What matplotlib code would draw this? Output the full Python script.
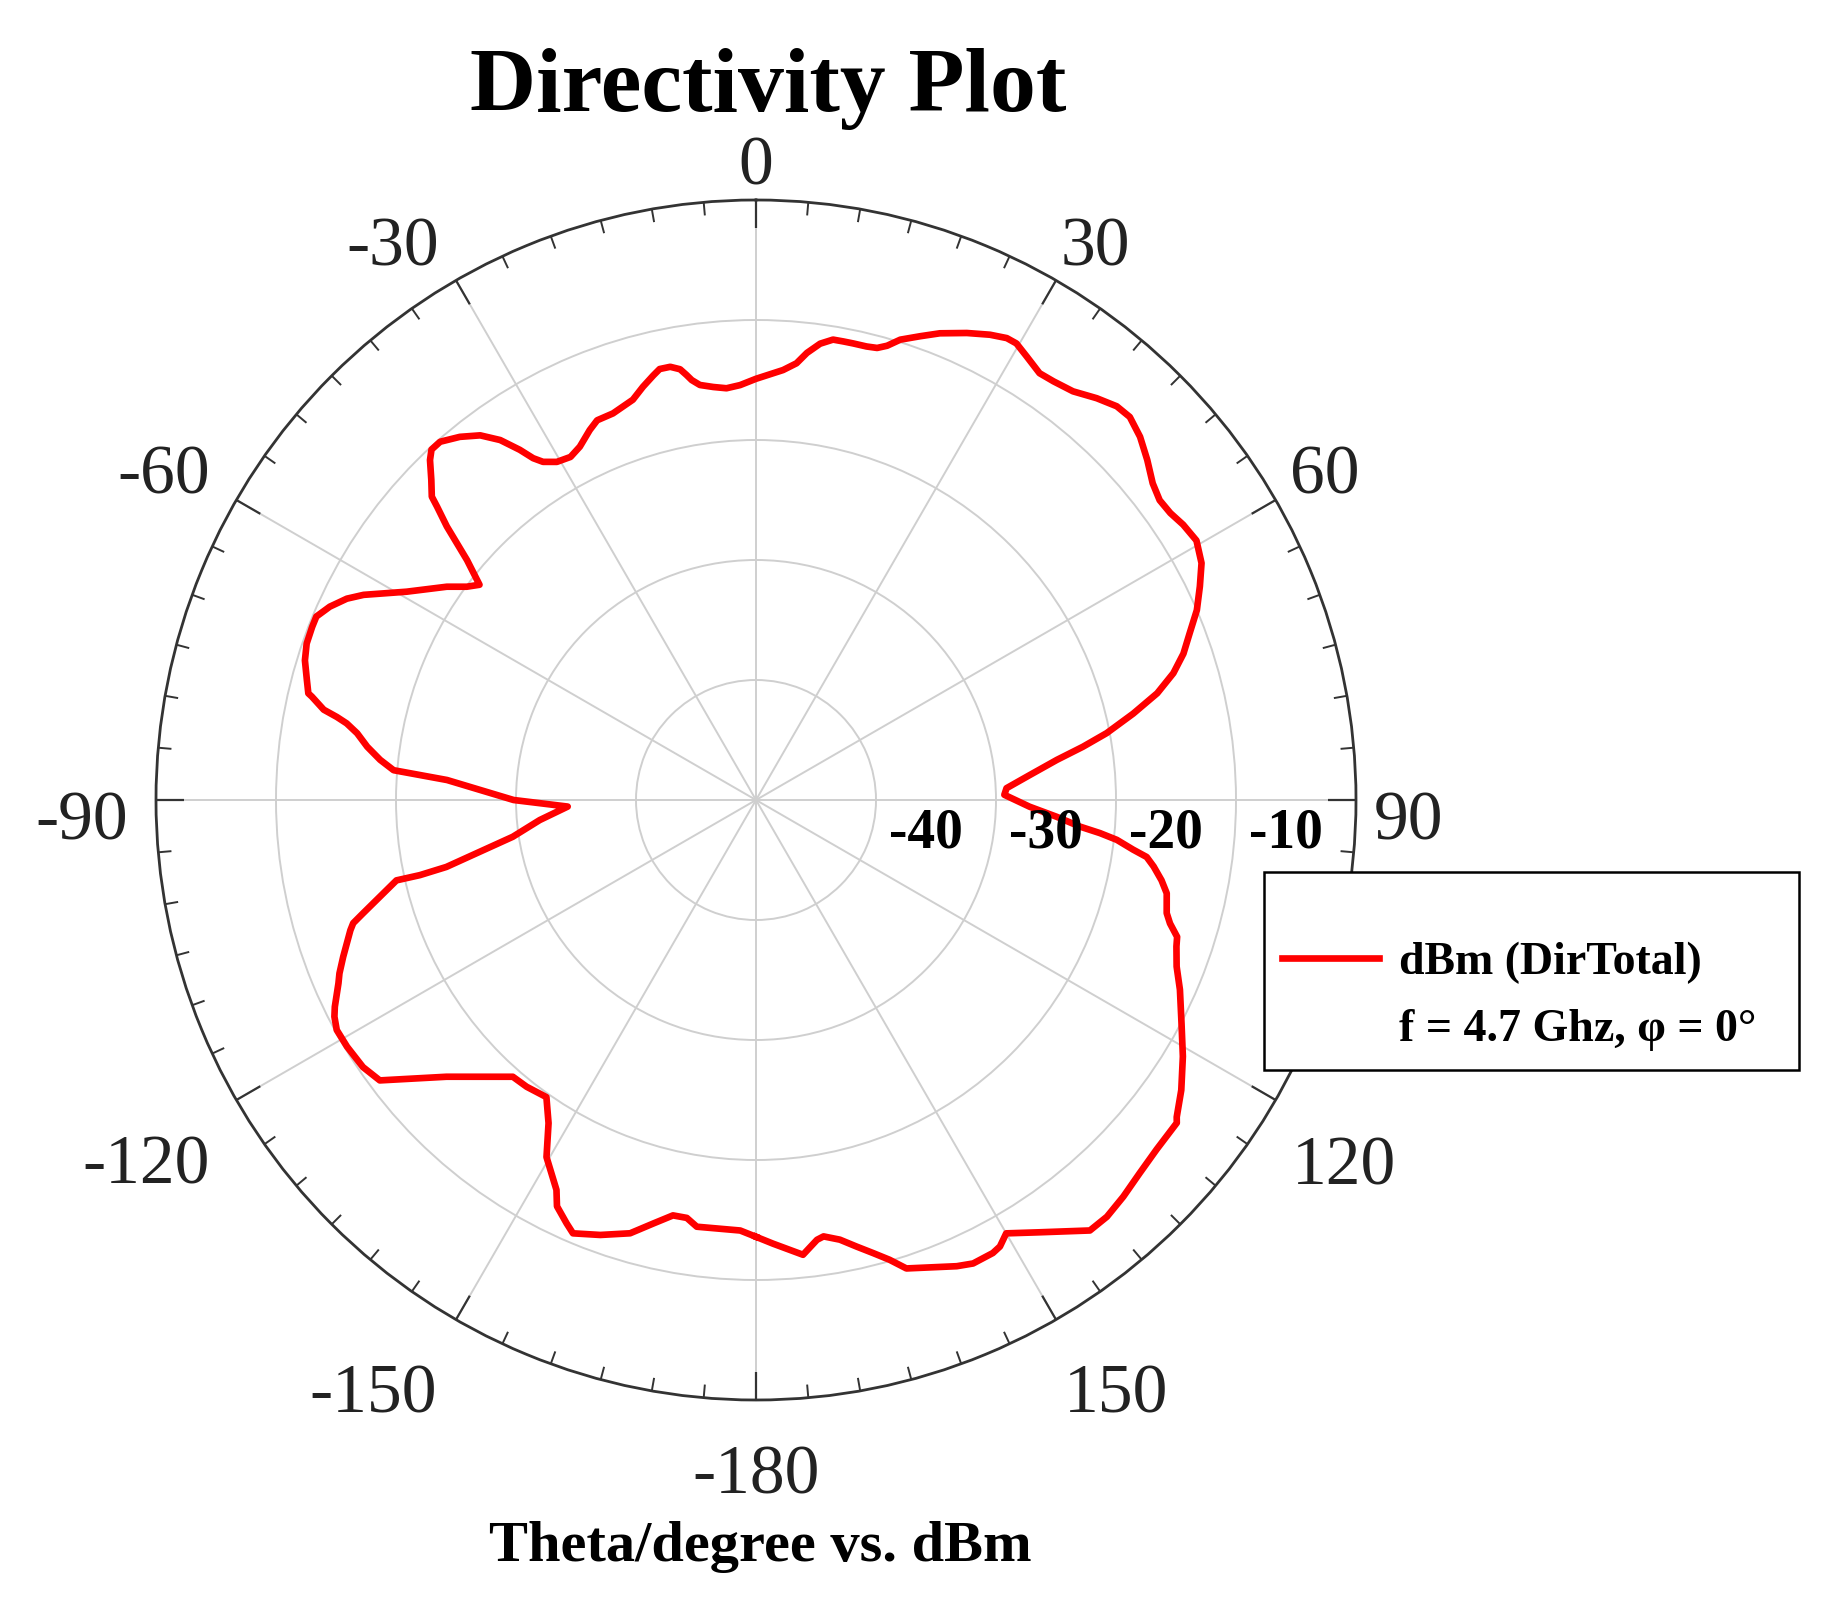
import numpy as np
import matplotlib
matplotlib.use('Agg')
import matplotlib.pyplot as plt
from matplotlib.lines import Line2D

# traced directivity pattern, theta in degrees, value in dBm (trace order)
theta_deg = [-180.0, -177.9, -172.1, -170.6, -168.7, -166.4, -163.8, -160.3, -157.1,
             -155.9, -153.9, -152.9, -149.6, -147.3, -144.8, -141.35, -138.7, -131.8,
             -126.7, -124.2, -121.1, -118.75, -117.2, -116.15, -113.7, -112.6, -110.8,
             -107.8, -107.0, -106.1, -104.4, -102.6, -102.6, -102.2, -100.6, -98.6,
             -95.3, -92.0, -90.0, -86.3, -85.3, -83.9, -82.2, -80.5, -79.4, -78.8,
             -78.2, -76.9, -76.6, -75.0, -72.8, -70.8, -68.7, -67.35, -65.6, -63.8,
             -62.4, -59.2, -55.4, -53.6, -52.1, -50.3, -48.5, -47.4, -46.9, -45.4,
             -43.8, -42.8, -41.4, -39.2, -37.1, -35.4, -34.0, -33.1, -32.2, -30.5,
             -28.4, -26.5, -24.2, -22.7, -20.3, -17.1, -15.3, -13.6, -12.6, -11.2,
             -10.0, -9.3, -8.7, -7.7, -5.9, -4.1, -2.2, 0.0, 3.6, 5.3, 6.5, 8.0,
             9.5, 10.8, 12.0, 13.7, 15.0, 16.1, 17.4, 19.5, 21.5, 24.3, 26.7, 28.5,
             29.7, 31.4, 33.6, 35.4, 37.8, 40.3, 42.5, 44.3, 46.6, 49.0, 51.4, 53.4,
             55.3, 57.2, 59.5, 62.0, 64.3, 66.7, 69.0, 71.1, 73.1, 75.1, 77.1, 79.2,
             80.75, 82.4, 84.8, 87.3, 88.8, 91.4, 93.2, 94.7, 95.5, 96.3, 97.5, 98.3,
             99.5, 101.2, 102.8, 105.4, 106.6, 108.0, 109.2, 111.6, 114.1, 117.7,
             121.0, 124.3, 127.0, 127.5, 131.1, 134.2, 137.2, 139.9, 142.2, 146.7,
             150.0, 151.35, 152.4, 154.9, 156.7, 162.2, 163.8, 165.5, 167.3, 169.2,
             171.2, 172.1, 174.1, 177.8, 180.0]
dirtotal_dbm = [-13.6, -14.1, -14.1, -14.7, -14.7, -13.7, -12.4, -11.5, -10.8,
                -11.35, -12.3, -13.5, -15.5, -18.0, -19.7, -19.4, -19.3, -15.4,
                -10.9, -10.4, -10.2, -10.15, -10.5, -10.9, -12.0, -12.4, -13.2,
                -14.5, -14.9, -15.9, -17.65, -19.3, -21.3, -23.6, -26.6, -29.5,
                -31.9, -34.3, -29.8, -24.2, -19.7, -18.5, -17.3, -16.3, -15.3, -14.4,
                -13.2, -12.0, -11.65, -11.25, -10.65, -10.35, -10.3, -10.3, -11.0, -12.0,
                -13.1, -16.1, -18.7, -20.05, -20.8, -18.7, -15.6, -13.9, -13.0, -12.0,
                -10.75, -10.2, -10.2, -10.95, -11.9, -13.2, -14.8, -16.0, -16.7, -17.3,
                -17.5, -17.1, -16.2, -15.7, -15.65, -15.1, -14.3, -13.6, -13.2, -13.2,
                -13.55, -14.1, -14.6, -15.1, -15.4, -15.6, -15.4, -14.9, -14.1, -13.45, -12.5, -11.6,
                -11.1, -11.1, -11.1, -11.1, -11.0, -10.6, -9.8, -9.0, -8.2, -7.3, -6.6, -6.2,
                -6.2, -6.7, -7.3, -7.2, -6.9, -6.1, -5.5, -5.4, -5.95, -6.8, -7.7, -8.1,
                -8.0, -7.65, -7.4, -7.95, -8.95, -10.0, -11.3, -12.35, -13.65, -15.4, -17.75, -20.25,
                -22.4, -24.7, -27.1, -29.1, -29.3, -27.2, -24.9, -22.9, -21.2, -19.75, -18.3, -17.1,
                -16.4, -15.55, -14.9, -14.5, -14.0, -13.1, -12.9, -12.3, -11.3, -9.95,
                -8.5, -7.1, -6.1, -5.8, -5.7, -5.4, -4.95, -4.6, -4.6, -6.9,
                -8.3, -7.6, -7.4, -7.35, -7.7, -9.0, -10.1, -11.0, -11.85, -12.7,
                -13.2, -13.0, -11.9, -13.0, -13.6]

angle_ticks = [0, 30, 60, 90, 120, 150, 180, 210, 240, 270, 300, 330]
angle_labels = ['0', '30', '60', '90', '120', '150', '-180', '-150', '-120', '-90', '-60', '-30']
ring_values = [-40, -30, -20, -10]
ring_labels = ['-40', '-30', '-20', '-10']

series_label = 'dBm (DirTotal)'
info_label = 'f = 4.7 Ghz, \u03c6 = 0\u00b0'

# where the angle labels sit (angle, radius in dB beyond the 0 dB rim)
lab_theta = [0, 31.6, 60.4, 92.0, 122.0, 148.8, 180.0, 212.7, 239.0, 268.1, 298.6, 326.6]
lab_r = [2.7, 3.9, 4.5, 4.4, 7.8, 8.0, 6.4, 9.0, 9.3, 6.2, 6.2, 5.0]

plt.rcParams['font.family'] = ['Liberation Serif', 'DejaVu Serif']

fig = plt.figure(figsize=(18.34, 16), dpi=100)
ax = fig.add_axes([156 / 1834, 200 / 1600, 1200 / 1834, 1200 / 1600], projection='polar')
ax.set_theta_zero_location('N')
ax.set_theta_direction(-1)
ax.set_ylim(-50, 0)

ax.set_yticks(ring_values)
ax.set_yticklabels([])
ax.set_xticks(np.deg2rad(angle_ticks))
ax.set_xticklabels([])
ax.tick_params(axis='x', length=0)
ax.grid(True, color='#cfcfcf', linewidth=1.4)
ax.spines['polar'].set_color('#333333')
ax.spines['polar'].set_linewidth(2)

# inward rim ticks: long every 30 deg, short every 5 deg
minor = [a for a in range(0, 360, 5) if a % 30 != 0]
ax.vlines(np.deg2rad(angle_ticks), -2.3, 0, color='#333333', linewidth=1.6, zorder=4)
ax.vlines(np.deg2rad(minor), -1.1, 0, color='#333333', linewidth=1.4, zorder=4)

ax.plot(np.deg2rad(theta_deg), dirtotal_dbm, color='#ff0000', linewidth=4.8,
        solid_joinstyle='round', label=series_label, zorder=3)

# angle labels around the rim
for t, r, s in zip(lab_theta, lab_r, angle_labels):
    ax.text(np.deg2rad(t), r, s, ha='center', va='center', fontsize=50,
            color='#222222', clip_on=False)

# ring value labels along the 90 degree spoke
for v, s in zip(ring_values, ring_labels):
    ax.annotate(s, xy=(np.deg2rad(90), v), xytext=(36, -24), textcoords='offset points',
                ha='center', va='center', fontsize=40, fontweight='bold', color='black',
                zorder=5, annotation_clip=False)

fig.text(0.419, 0.9306, 'Directivity Plot', ha='center', va='baseline',
         fontsize=66, fontweight='bold')
fig.text(0.4145, 0.0244, 'Theta/degree vs. dBm', ha='center', va='baseline',
         fontsize=42, fontweight='bold')

handles = [Line2D([], [], color='#ff0000', linewidth=4.8),
           Line2D([], [], color='none')]
leg = fig.legend(handles, [series_label, info_label], loc='upper left',
                 bbox_to_anchor=(1264 / 1834, 1 - 872 / 1600, 535 / 1834, 0),
                 mode='expand', borderaxespad=0,
                 fancybox=False, edgecolor='black', framealpha=1,
                 prop={'size': 33, 'weight': 'bold'},
                 handlelength=2.1, handletextpad=0.45, labelspacing=0.55,
                 borderpad=0.4, title=' ', title_fontsize=21)
leg.get_frame().set_linewidth(1.8)

plt.savefig('out.png', dpi=100)
